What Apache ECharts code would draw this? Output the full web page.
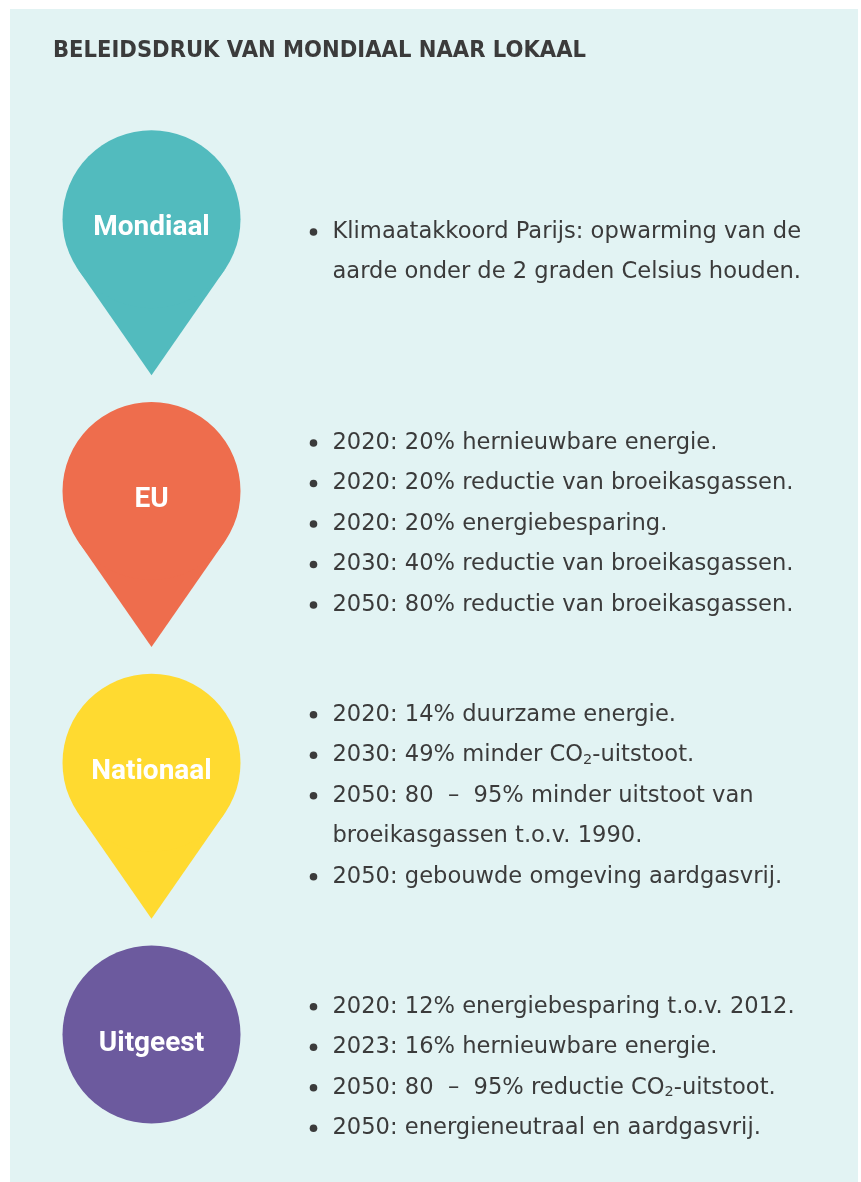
<!DOCTYPE html>
<html>
<head>
<meta charset="utf-8">
<script src="https://cdn.jsdelivr.net/npm/echarts@6/dist/echarts.min.js"></script>
<style>
html,body{margin:0;padding:0;background:#ffffff;}
#chart{width:861px;height:1182px;}
</style>
</head>
<body>
<div id="chart"></div>
<script>
// ---- data ----
const titleText = 'BELEIDSDRUK VAN MONDIAAL NAAR LOKAAL';
const levels = ['Mondiaal', 'EU', 'Nationaal', 'Uitgeest'];
const markerShapes = ['pin', 'pin', 'pin', 'circle'];
const bulletsMondiaal = [
  'Klimaatakkoord Parijs: opwarming van de\naarde onder de 2 graden Celsius houden.'
];
const bulletsEU = [
  '2020: 20% hernieuwbare energie.',
  '2020: 20% reductie van broeikasgassen.',
  '2020: 20% energiebesparing.',
  '2030: 40% reductie van broeikasgassen.',
  '2050: 80% reductie van broeikasgassen.'
];
const bulletsNationaal = [
  '2020: 14% duurzame energie.',
  '2030: 49% minder CO\u2082-uitstoot.',
  '2050: 80  \u2013  95% minder uitstoot van\nbroeikasgassen t.o.v. 1990.',
  '2050: gebouwde omgeving aardgasvrij.'
];
const bulletsUitgeest = [
  '2020: 12% energiebesparing t.o.v. 2012.',
  '2023: 16% hernieuwbare energie.',
  '2050: 80  \u2013  95% reductie CO\u2082-uitstoot.',
  '2050: energieneutraal en aardgasvrij.'
];
const bulletGroups = [bulletsMondiaal, bulletsEU, bulletsNationaal, bulletsUitgeest];

// ---- styles ----
const levelColors = ['#52BBBE', '#EE6D4D', '#FFDA30', '#6C5A9E'];
const textColor = '#3b3b3b';
const bodyFont = '"DejaVu Sans", "Noto Sans", sans-serif';
const R = 89;          // pin head radius
const TIP = 156;       // distance from head centre to tip
const LINE_H = 40.5;
const TEXT_DX = 181;   // from pin centre to text start
const BULLET_DX = 162;
const TEXT_DY = 33;    // text block centre offset

function toRich(s) { return s.replace(/\u2082/g, '{sub|2}'); }

const chart = echarts.init(document.getElementById('chart'), null, {renderer: 'canvas'});

const option = {
  backgroundColor: '#ffffff',
  animation: false,
  graphic: [
    { type: 'rect', left: 10, top: 9, shape: { width: 848, height: 1173 }, style: { fill: '#E2F3F3' }, z: -10 },
    { type: 'text', left: 53, top: 39, style: {
        text: titleText, fill: textColor,
        font: 'bold 23.5px "Liberation Sans Narrow", "DejaVu Sans Condensed", "Roboto Condensed", sans-serif'
    } }
  ],
  grid: { left: 151.5, right: 20, top: 83.4, bottom: 11.6 },
  xAxis: { type: 'value', min: 0, max: 1, show: false },
  yAxis: { type: 'category', data: levels, inverse: true, show: false },
  series: [{
    type: 'custom',
    coordinateSystem: 'cartesian2d',
    data: levels.map((l, i) => [0, i]),
    clip: false,
    renderItem: function (params, api) {
      const i = api.value(1);
      const p = api.coord([0, i]);
      const cx = p[0], cy = p[1];
      const color = levelColors[i];
      const children = [];
      if (markerShapes[i] === 'pin') {
        const cosT = R / TIP;
        const sinT = Math.sqrt(1 - cosT * cosT);
        children.push({
          type: 'polygon',
          shape: { points: [[cx - R * sinT, cy + R * cosT], [cx + R * sinT, cy + R * cosT], [cx, cy + TIP]] },
          style: { fill: color }
        });
      }
      children.push({ type: 'circle', shape: { cx: cx, cy: cy, r: R }, style: { fill: color } });
      children.push({
        type: 'text',
        x: cx, y: cy + 9,
        style: {
          text: levels[i], fill: '#ffffff', align: 'center', verticalAlign: 'middle',
          font: 'bold 28px Roboto, "Noto Sans", sans-serif'
        }
      });
      // bullet lines
      const lines = [];
      bulletGroups[i].forEach(b => {
        b.split('\n').forEach((ln, k) => lines.push({ text: ln, first: k === 0 }));
      });
      const n = lines.length;
      lines.forEach((ln, k) => {
        const y = cy + TEXT_DY + (k - (n - 1) / 2) * LINE_H;
        if (ln.first) {
          children.push({ type: 'circle', shape: { cx: cx + BULLET_DX, cy: y, r: 3.8 }, style: { fill: textColor } });
        }
        children.push({
          type: 'text',
          x: cx + TEXT_DX, y: y,
          style: {
            text: toRich(ln.text), fill: textColor, align: 'left', verticalAlign: 'middle',
            font: '22.6px ' + bodyFont,
            rich: {
              sub: { fontSize: 14.5, fontFamily: 'DejaVu Sans', fill: textColor, verticalAlign: 'bottom', padding: [9, 0, 0, 0] }
            }
          }
        });
      });
      return { type: 'group', children: children };
    }
  }]
};
chart.setOption(option);
</script>
</body>
</html>
